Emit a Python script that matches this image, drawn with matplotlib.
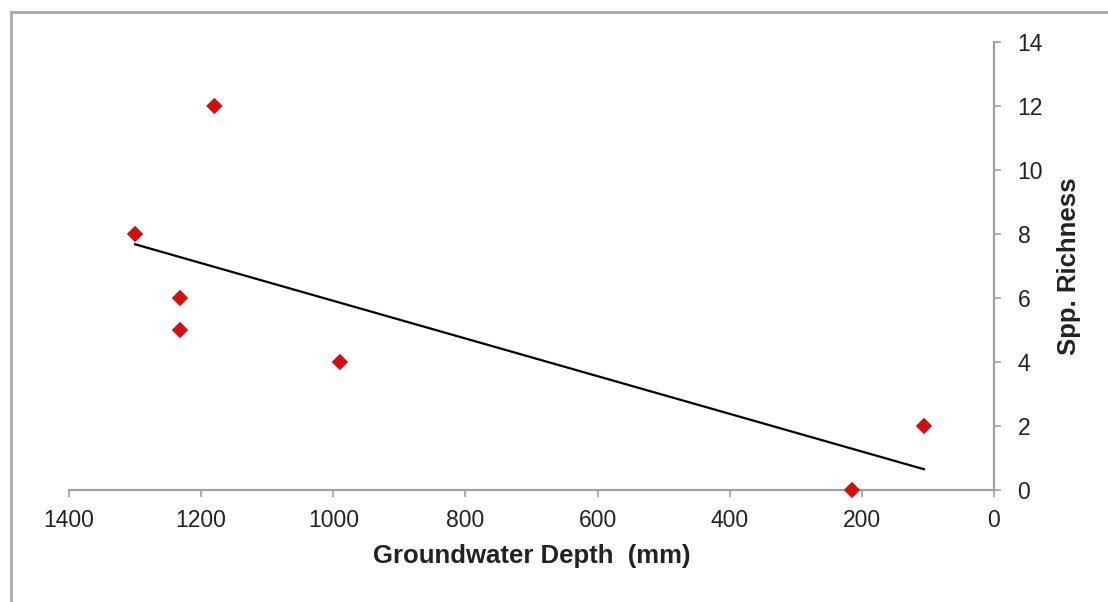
import numpy as np
import matplotlib
matplotlib.use("Agg")
from matplotlib import pyplot as plt
from matplotlib.lines import Line2D

plt.rcParams['font.family'] = ['Liberation Sans', 'DejaVu Sans']

# Groundwater depth (mm) vs species richness
depth = [1300, 1180, 1232, 1232, 990, 215, 106]
richness = [8, 12, 6, 5, 4, 0, 2]

x_ticks = [1400, 1200, 1000, 800, 600, 400, 200, 0]
y_ticks = [0, 2, 4, 6, 8, 10, 12, 14]

fig = plt.figure(figsize=(11.08, 6.02), dpi=100)
ax = fig.add_axes([69 / 1108, 1 - 490 / 602, 925 / 1108, 448 / 602])

# linear trend line over the data range
slope, icpt = np.polyfit(depth, richness, 1)
xs = np.array([max(depth), min(depth)])
ax.plot(xs, slope * xs + icpt, color="black", lw=1.6, zorder=2)

ax.scatter(depth, richness, marker="D", s=70, color="#d01010",
           edgecolors="none", zorder=3, clip_on=False)

ax.set_xlim(1400, 0)
ax.set_ylim(0, 14)
ax.set_xticks(x_ticks)
ax.set_yticks(y_ticks)

ax.spines['top'].set_visible(False)
ax.spines['left'].set_visible(False)
for s in ('bottom', 'right'):
    ax.spines[s].set_color("#a0a0a0")
    ax.spines[s].set_linewidth(1.6)

ax.yaxis.tick_right()
ax.yaxis.set_label_position("right")
ax.tick_params(axis='both', colors="#a0a0a0", labelcolor="#222222",
               labelsize=16.5, length=5, width=1.2, direction='out')
ax.tick_params(axis='y', pad=12)
ax.tick_params(axis='x', pad=9)

ax.set_xlabel("Groundwater Depth  (mm)", fontsize=18.5, fontweight="bold",
              color="#222222", labelpad=8)
ax.set_ylabel("Spp. Richness", fontsize=18.5, fontweight="bold",
              color="#222222", labelpad=10)

# chart-area border (runs off right/bottom edge)
fig.add_artist(Line2D([11 / 1108, 1.0], [1 - 12 / 602, 1 - 12 / 602],
                      transform=fig.transFigure, color="#a8a8a8", lw=2))
fig.add_artist(Line2D([11 / 1108, 11 / 1108], [0.0, 1 - 12 / 602],
                      transform=fig.transFigure, color="#a8a8a8", lw=2))

fig.savefig("out.png", dpi=100)
plt.close(fig)
